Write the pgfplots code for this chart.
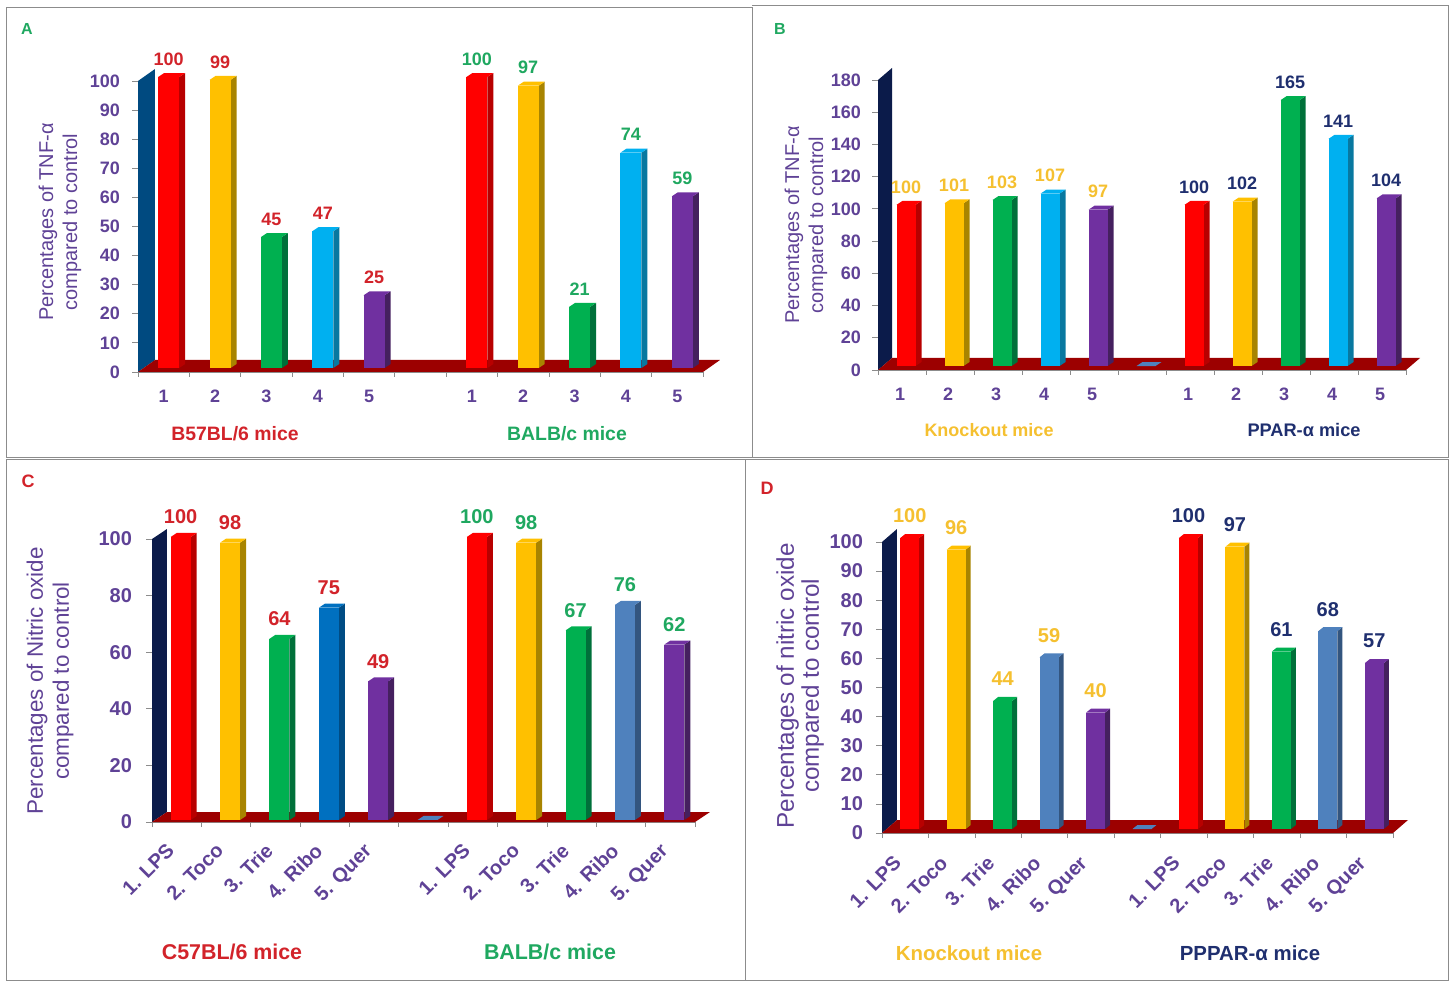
\documentclass[border=0pt]{standalone}
\usepackage{fontspec}
\setmainfont{Liberation Sans}
\usepackage{pgfplots}
\pgfplotsset{compat=1.18}

\definecolor{pur}{HTML}{5F4296}
\definecolor{rd}{HTML}{FF0000}\definecolor{rdD}{HTML}{B80000}
\definecolor{or}{HTML}{FFC000}\definecolor{orD}{HTML}{A88400}
\definecolor{gr}{HTML}{00B050}\definecolor{grD}{HTML}{00703A}
\definecolor{cy}{HTML}{00B0F0}\definecolor{cyD}{HTML}{0878A0}
\definecolor{bl}{HTML}{0070C0}\definecolor{blD}{HTML}{004C84}
\definecolor{sb}{HTML}{4F81BD}\definecolor{sbD}{HTML}{33557F}
\definecolor{vi}{HTML}{7030A0}\definecolor{viD}{HTML}{45205F}
\definecolor{floorc}{HTML}{9C0000}
\definecolor{nav}{HTML}{0B1B4A}
\definecolor{wallA}{HTML}{004A80}
\definecolor{lblred}{HTML}{D2232A}
\definecolor{lblgr}{HTML}{1FA860}
\definecolor{lblor}{HTML}{F5C030}
\definecolor{lblnav}{HTML}{1F2F6F}
\definecolor{frm}{HTML}{8C8C8C}

% one picture pixel
\def\upx{0.5pt}

% #1 px per category, #2 px per unit, #3 front width, #4 side, #5 rise, #6 x shift, #7 label lift
\newcommand{\setpanel}[7]{%
  \def\pxx{#1}\def\pxy{#2}\def\fw{#3}\def\sx{#4}\def\sy{#5}\def\sh{#6}\def\lift{#7}}

% bar: position, value, colour name, label colour, label font
\newcommand{\tb}[5]{%
  \pgfmathsetmacro{\xc}{#1+\sh/\pxx}%
  \pgfmathsetmacro{\xa}{#1+(\sh+\fw/2)/\pxx}%
  \pgfmathsetmacro{\xb}{#1+(\sh+\fw/2+\sx)/\pxx}%
  \pgfmathsetmacro{\xl}{#1+(\sh-\fw/2)/\pxx}%
  \pgfmathsetmacro{\xm}{#1+(\sh-\fw/2+\sx)/\pxx}%
  \pgfmathsetmacro{\yt}{#2+\sy/\pxy}%
  \pgfmathsetmacro{\yr}{\sy/\pxy}%
  \addplot[fill=#3D,draw=none,forget plot] coordinates {(\xa,0)(\xb,\yr)(\xb,\yt)(\xa,#2)};
  \addplot[fill=#3,draw=none,forget plot] coordinates {(\xl,#2)(\xa,#2)(\xb,\yt)(\xm,\yt)};
  \addplot[ybar,bar shift=0pt,bar width=\fw*\upx,fill=#3,draw=none,forget plot,
    nodes near coords,
    every node near coord/.style={anchor=center,yshift=\lift*\upx,text=#4,font=#5}]
    coordinates {(\xc,#2)};
}

% floor and back wall: number of categories, ymin, ymax, dx, dy, wall colour
\newcommand{\stage}[6]{%
  \pgfmathsetmacro{\wx}{#4/\pxx}%
  \pgfmathsetmacro{\fx}{11+#4/\pxx}%
  \pgfmathsetmacro{\wlo}{#2+#5/\pxy}%
  \pgfmathsetmacro{\whi}{#3+#5/\pxy}%
  \addplot[fill=#6,draw=none,forget plot] coordinates {(0,#2)(\wx,\wlo)(\wx,\whi)(0,#3)};
  \addplot[fill=floorc,draw=none,forget plot] coordinates {(0,#2)(#1,#2)(\fx,\wlo)(\wx,\wlo)};
}

% flat bar of the empty slot
\newcommand{\flatbar}[1]{%
  \pgfmathsetmacro{\xl}{#1+(\sh-\fw/2)/\pxx}%
  \pgfmathsetmacro{\xa}{#1+(\sh+\fw/2)/\pxx}%
  \pgfmathsetmacro{\xb}{#1+(\sh+\fw/2+\sx)/\pxx}%
  \pgfmathsetmacro{\xm}{#1+(\sh-\fw/2+\sx)/\pxx}%
  \pgfmathsetmacro{\yr}{\sy/\pxy}%
  \addplot[fill=sb,draw=none,forget plot] coordinates {(\xl,0)(\xa,0)(\xb,\yr)(\xm,\yr)};
}

\pgfplotsset{panel/.style={
    scale only axis,clip=false,
    /pgf/number format/assume math mode=true,
    axis x line*=bottom,axis y line*=left,
    axis line style={draw=frm,line width=0.4pt},
    tick style={draw=frm,line width=0.4pt},
    tick align=outside,
    xmin=0,xmax=11,
    xtick={0.5,1.5,2.5,3.5,4.5,6.5,7.5,8.5,9.5,10.5},
    minor xtick={0,1,2,3,4,5,6,7,8,9,10,11},
    major x tick style={draw=none},
    minor tick length=2.5pt,
    major tick length=3pt,
    ticklabel style={text=pur},
    anchor=south west}}

\begin{document}
\begin{tikzpicture}
\begin{scope}[x=\upx,y=-\upx]
  \path (0,0) rectangle (1455,988);
  \draw[frm,line width=0.5pt] (6,8) -- (752,8) -- (752,458) -- (6,458) -- cycle;
  \draw[frm,line width=0.5pt] (752,6) -- (1448,6) -- (1448,458) -- (752,458);
  \draw[frm,line width=0.5pt] (6,460) -- (745,460) -- (745,980) -- (6,980) -- cycle;
  \draw[frm,line width=0.5pt] (745,460) -- (1448,460) -- (1448,980) -- (745,980);
\end{scope}

% panel A
\setpanel{51.4}{2.91}{21}{6}{4}{5}{18}
\begin{axis}[panel,at={(138*\upx,-372*\upx)},width=565*\upx,height=291*\upx,
    ymin=-1.37,ymax=98.63,
    ytick={-1.37,8.63,18.63,28.63,38.63,48.63,58.63,68.63,78.63,88.63,98.63},
    yticklabels={0,10,20,30,40,50,60,70,80,90,100},
    xticklabels={1,2,3,4,5,1,2,3,4,5},
    ticklabel style={font=\bfseries\fontsize{9}{10}\selectfont},
    yticklabel style={xshift=-2.5pt},
    xticklabel style={yshift=-2.5pt}]
  \stage{11}{-1.37}{98.63}{17}{12}{wallA}
  \def\lf{\bfseries\fontsize{9}{10}\selectfont}
  \tb{0.5}{100}{rd}{lblred}{\lf}
  \tb{1.5}{99}{or}{lblred}{\lf}
  \tb{2.5}{45}{gr}{lblred}{\lf}
  \tb{3.5}{47}{cy}{lblred}{\lf}
  \tb{4.5}{25}{vi}{lblred}{\lf}
  \tb{6.5}{100}{rd}{lblgr}{\lf}
  \tb{7.5}{97}{or}{lblgr}{\lf}
  \tb{8.5}{21}{gr}{lblgr}{\lf}
  \tb{9.5}{74}{cy}{lblgr}{\lf}
  \tb{10.5}{59}{vi}{lblgr}{\lf}
\end{axis}

% panel B
\setpanel{48}{1.611}{19}{6}{4}{4}{18}
\begin{axis}[panel,at={(878*\upx,-370*\upx)},width=528*\upx,height=290*\upx,
    ymin=-2.48,ymax=177.52,
    ytick={-2.48,17.52,37.52,57.52,77.52,97.52,117.52,137.52,157.52,177.52},
    yticklabels={0,20,40,60,80,100,120,140,160,180},
    xticklabels={1,2,3,4,5,1,2,3,4,5},
    ticklabel style={font=\bfseries\fontsize{9}{10}\selectfont},
    yticklabel style={xshift=-2pt},
    xticklabel style={yshift=-2.5pt,xshift=-1pt}]
  \stage{11}{-2.48}{177.52}{14}{12}{nav}
  \def\lf{\bfseries\fontsize{9}{10}\selectfont}
  \tb{0.5}{100}{rd}{lblor}{\lf}
  \tb{1.5}{101}{or}{lblor}{\lf}
  \tb{2.5}{103}{gr}{lblor}{\lf}
  \tb{3.5}{107}{cy}{lblor}{\lf}
  \tb{4.5}{97}{vi}{lblor}{\lf}
  \flatbar{5.5}
  \tb{6.5}{100}{rd}{lblnav}{\lf}
  \tb{7.5}{102}{or}{lblnav}{\lf}
  \tb{8.5}{165}{gr}{lblnav}{\lf}
  \tb{9.5}{141}{cy}{lblnav}{\lf}
  \tb{10.5}{104}{vi}{lblnav}{\lf}
\end{axis}

% panel C
\setpanel{49.4}{2.83}{20}{6}{4}{4}{20}
\begin{axis}[panel,at={(152*\upx,-822*\upx)},width=543*\upx,height=283*\upx,
    ymin=-0.71,ymax=99.29,
    ytick={-0.71,19.29,39.29,59.29,79.29,99.29},
    yticklabels={0,20,40,60,80,100},
    xticklabels={1. LPS,2. Toco,3. Trie,4. Ribo,5. Quer,1. LPS,2. Toco,3. Trie,4. Ribo,5. Quer},
    yticklabel style={font=\bfseries\fontsize{10}{11}\selectfont,xshift=-3.5pt},
    xticklabel style={font=\bfseries\fontsize{10}{12}\selectfont,rotate=45,anchor=north east,xshift=-5.5pt,yshift=2.5pt}]
  \stage{11}{-0.71}{99.29}{15}{10}{nav}
  \def\lf{\bfseries\fontsize{10}{11}\selectfont}
  \tb{0.5}{100}{rd}{lblred}{\lf}
  \tb{1.5}{98}{or}{lblred}{\lf}
  \tb{2.5}{64}{gr}{lblred}{\lf}
  \tb{3.5}{75}{bl}{lblred}{\lf}
  \tb{4.5}{49}{vi}{lblred}{\lf}
  \flatbar{5.5}
  \tb{6.5}{100}{rd}{lblgr}{\lf}
  \tb{7.5}{98}{or}{lblgr}{\lf}
  \tb{8.5}{67}{gr}{lblgr}{\lf}
  \tb{9.5}{76}{sb}{lblgr}{\lf}
  \tb{10.5}{62}{vi}{lblgr}{\lf}
\end{axis}

% panel D
\setpanel{46.5}{2.91}{19}{5}{4}{4.5}{22}
\begin{axis}[panel,at={(882*\upx,-833*\upx)},width=511*\upx,height=291*\upx,
    ymin=-1.37,ymax=98.63,
    ytick={-1.37,8.63,18.63,28.63,38.63,48.63,58.63,68.63,78.63,88.63,98.63},
    yticklabels={0,10,20,30,40,50,60,70,80,90,100},
    xticklabels={1. LPS,2. Toco,3. Trie,4. Ribo,5. Quer,1. LPS,2. Toco,3. Trie,4. Ribo,5. Quer},
    yticklabel style={font=\bfseries\fontsize{10}{11}\selectfont,xshift=-3pt},
    xticklabel style={font=\bfseries\fontsize{10}{12}\selectfont,rotate=45,anchor=north east,xshift=-6.5pt,yshift=2.5pt}]
  \stage{11}{-1.37}{98.63}{15}{13}{nav}
  \def\lf{\bfseries\fontsize{10}{11}\selectfont}
  \tb{0.5}{100}{rd}{lblor}{\lf}
  \tb{1.5}{96}{or}{lblor}{\lf}
  \tb{2.5}{44}{gr}{lblor}{\lf}
  \tb{3.5}{59}{sb}{lblor}{\lf}
  \tb{4.5}{40}{vi}{lblor}{\lf}
  \flatbar{5.5}
  \tb{6.5}{100}{rd}{lblnav}{\lf}
  \tb{7.5}{97}{or}{lblnav}{\lf}
  \tb{8.5}{61}{gr}{lblnav}{\lf}
  \tb{9.5}{68}{sb}{lblnav}{\lf}
  \tb{10.5}{57}{vi}{lblnav}{\lf}
\end{axis}

\begin{scope}[x=\upx,y=-\upx,every node/.style={inner sep=0pt}]
  % panel letters
  \node[text=lblgr,font=\bfseries\fontsize{8}{9}\selectfont] at (27,29) {A};
  \node[text=lblgr,font=\bfseries\fontsize{8}{9}\selectfont] at (780,29) {B};
  \node[text=lblred,font=\bfseries\fontsize{9}{10}\selectfont] at (28,481) {C};
  \node[text=lblred,font=\bfseries\fontsize{9}{10}\selectfont] at (767,488) {D};
  % group captions
  \node[text=lblred,font=\bfseries\fontsize{9.7}{11}\selectfont] at (235,434) {B57BL/6 mice};
  \node[text=lblgr,font=\bfseries\fontsize{9.7}{11}\selectfont] at (567,434) {BALB/c mice};
  \node[text=lblor,font=\bfseries\fontsize{9}{11}\selectfont] at (989,430) {Knockout mice};
  \node[text=lblnav,font=\bfseries\fontsize{9.1}{11}\selectfont] at (1304,430) {PPAR-α mice};
  \node[text=lblred,font=\bfseries\fontsize{10.7}{12}\selectfont] at (232,952) {C57BL/6 mice};
  \node[text=lblgr,font=\bfseries\fontsize{10.7}{12}\selectfont] at (550,952) {BALB/c mice};
  \node[text=lblor,font=\bfseries\fontsize{10.2}{12}\selectfont] at (969,953) {Knockout mice};
  \node[text=lblnav,font=\bfseries\fontsize{10.2}{12}\selectfont] at (1250,953) {PPPAR-α mice};
  % y titles
  \node[rotate=90,align=center,text=pur,font=\fontsize{10}{12}\selectfont] at (60,222) {Percentages of TNF-α\\compared to control};
  \node[rotate=90,align=center,text=pur,font=\fontsize{10}{12}\selectfont] at (806,225) {Percentages of TNF-α\\compared to control};
  \node[rotate=90,align=center,text=pur,font=\fontsize{11.2}{13}\selectfont] at (50,681) {Percentages of Nitric oxide\\compared to control};
  \node[rotate=90,align=center,text=pur,font=\fontsize{12.1}{12.5}\selectfont] at (800,686) {Percentages of nitric oxide\\compared to control};
\end{scope}
\end{tikzpicture}
\end{document}
